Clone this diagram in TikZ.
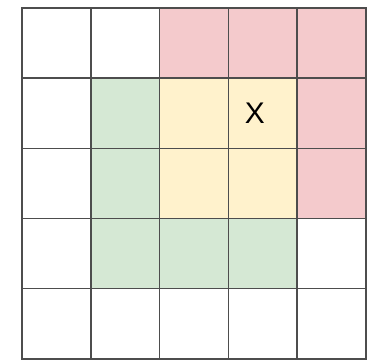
\documentclass[tikz,border=0pt]{standalone}
\usepackage{fontspec}
\setsansfont{Liberation Sans}
\usepackage{xcolor}
\usepackage{tikz}
\usetikzlibrary{positioning}
\definecolor{cellred}{HTML}{F4CACC}
\definecolor{cellgreen}{HTML}{D5E8D4}
\definecolor{cellyellow}{HTML}{FFF2CC}
\definecolor{gridline}{HTML}{4D4D4D}

\begin{document}
\begin{tikzpicture}[x=0.02cm,y=-0.02cm,
 cell/.style={rectangle,draw=gridline,line width=0.8pt,minimum width=1.376cm,minimum height=1.408cm,inner sep=0pt},
 lbl/.style={font=\sffamily\fontsize{17}{20}\selectfont,inner sep=0pt}]
\useasboundingbox (0,0) rectangle (372,361);
\foreach \r/\l in {0/{white,white,cellred,cellred,cellred},
 1/{white,cellgreen,cellyellow,cellyellow,cellred},
 2/{white,cellgreen,cellyellow,cellyellow,cellred},
 3/{white,cellgreen,cellgreen,cellgreen,white},
 4/{white,white,white,white,white}}
 \foreach \c [count=\i from 0] in \l
  \node[cell,fill=\c] (cell-\i-\r) at ({22+68.8*(\i+0.5)},{8+70.2*(\r+0.5)}) {};
\node[lbl,xshift=-0.16cm] (xmark) at (cell-3-1) {X};
\end{tikzpicture}
\end{document}
